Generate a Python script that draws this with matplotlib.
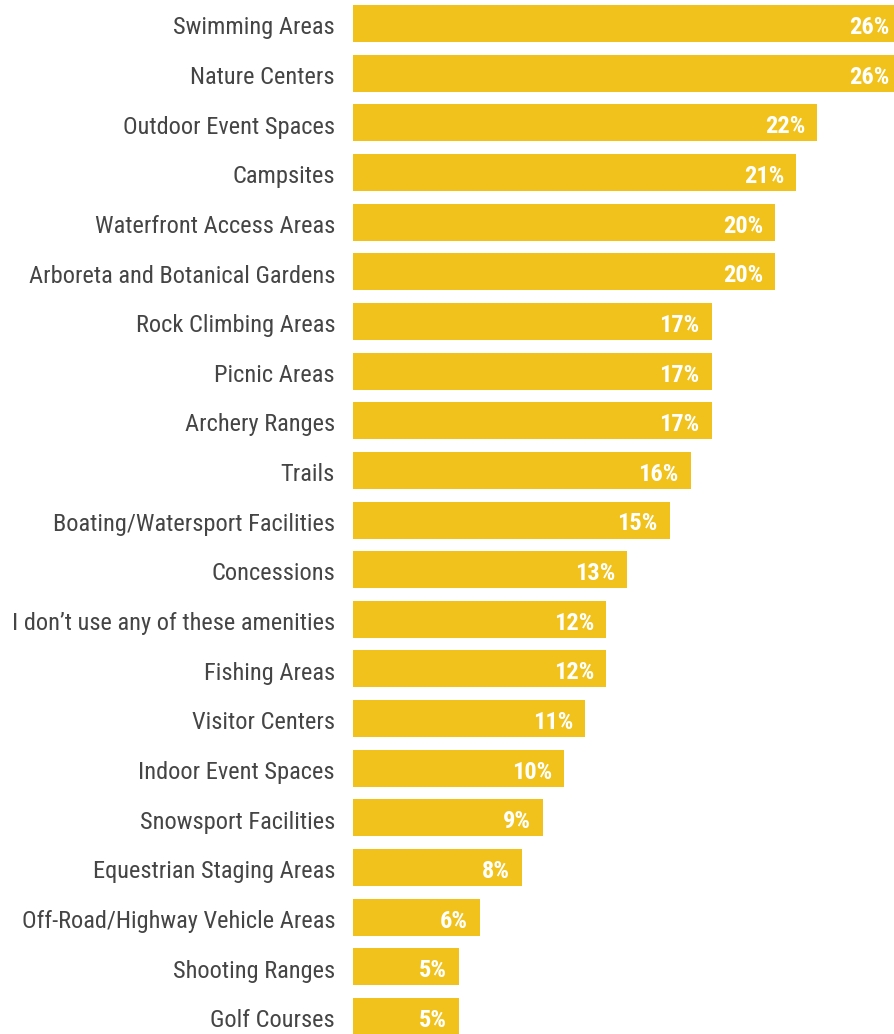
import matplotlib
matplotlib.use("Agg")
import matplotlib.pyplot as plt

# ── data ─────────────────────────────────────────────────────────────────────
categories = [
    "Swimming Areas",
    "Nature Centers",
    "Outdoor Event Spaces",
    "Campsites",
    "Waterfront Access Areas",
    "Arboreta and Botanical Gardens",
    "Rock Climbing Areas",
    "Picnic Areas",
    "Archery Ranges",
    "Trails",
    "Boating/Watersport Facilities",
    "Concessions",
    "I don\u2019t use any of these amenities",
    "Fishing Areas",
    "Visitor Centers",
    "Indoor Event Spaces",
    "Snowsport Facilities",
    "Equestrian Staging Areas",
    "Off-Road/Highway Vehicle Areas",
    "Shooting Ranges",
    "Golf Courses",
]
values = [26, 26, 22, 21, 20, 20, 17, 17, 17, 16, 15, 13, 12, 12, 11, 10, 9, 8, 6, 5, 5]
value_labels = [f"{v}%" for v in values]

BAR_COLOR = "#F1C21B"
TEXT_COLOR = "#454545"
FONT = ["Roboto Condensed", "Archivo Narrow", "DejaVu Sans"]

# ── figure ───────────────────────────────────────────────────────────────────
W, H = 894, 1034
fig = plt.figure(figsize=(W / 100, H / 100), dpi=100)
ax = fig.add_axes([353 / W, 0, 1 - 353 / W, 1])

pitch = 49.65
first_center = 23.5
y = list(range(len(categories)))
ax.barh(y, values, height=37 / pitch, color=BAR_COLOR, edgecolor="none")

px_per_pct = 21.1
ax.set_xlim(0, (W - 353) / px_per_pct)
ax.set_ylim((H - first_center) / pitch, -first_center / pitch)

ax.set_yticks([])
ax.set_xticks([])
for s in ax.spines.values():
    s.set_visible(False)

# category labels left of the bars (baseline ~11 px below bar centre)
for yi, cat in zip(y, categories):
    ax.annotate(cat, xy=(0, yi), xytext=(-18, -10.8), textcoords="offset pixels",
                ha="right", va="baseline", color=TEXT_COLOR, fontsize=17.6,
                family=FONT, annotation_clip=False)

# value labels inside the bar ends
for yi, v, lab in zip(y, values, value_labels):
    ax.annotate(lab, xy=(v, yi), xytext=(-12, -10.5), textcoords="offset pixels",
                ha="right", va="baseline", color="white", fontsize=17.6,
                fontweight="bold", family=FONT, annotation_clip=False)

fig.savefig("out.png", dpi=100)
